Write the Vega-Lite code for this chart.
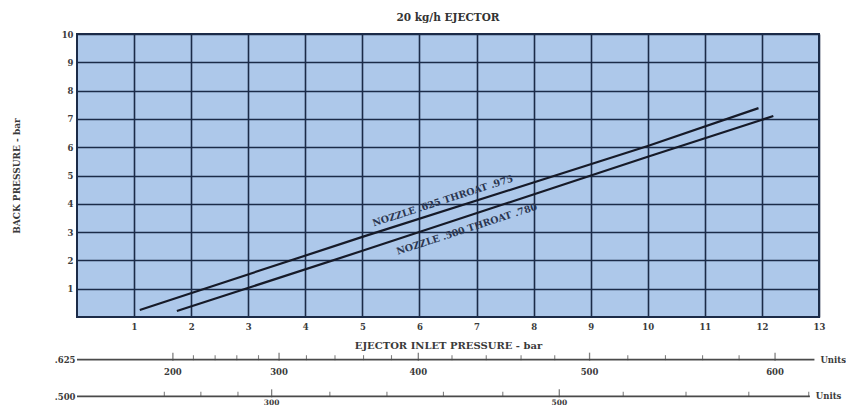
{
  "$schema": "https://vega.github.io/schema/vega-lite/v6.json",
  "padding": {"left": 11, "top": 11, "right": 0, "bottom": 0},
  "background": "white",
  "spacing": 0,
  "config": {
    "font": "DejaVu Serif",
    "view": {"stroke": null},
    "axis": {"labelColor": "#3a3a3a", "titleColor": "#3a3a3a", "labelOverlap": false}
  },
  "datasets": {
    "curves": [
      {"curve": "625", "inlet": 1.1, "back": 0.25},
      {"curve": "625", "inlet": 5.0, "back": 2.83},
      {"curve": "625", "inlet": 10.0, "back": 6.04},
      {"curve": "625", "inlet": 11.94, "back": 7.38},
      {"curve": "500", "inlet": 1.75, "back": 0.21},
      {"curve": "500", "inlet": 5.0, "back": 2.34},
      {"curve": "500", "inlet": 10.0, "back": 5.66},
      {"curve": "500", "inlet": 12.2, "back": 7.1}
    ],
    "curveLabels": [
      {"inlet": 6.41, "back": 4.1, "label": "NOZZLE .625 THROAT .975"},
      {"inlet": 6.83, "back": 3.1, "label": "NOZZLE .500 THROAT .780"}
    ],
    "scaleLines": [
      {"nozzle": ".625", "start": 0, "end": 12.92, "unit": "Units"},
      {"nozzle": ".500", "start": 0, "end": 12.84, "unit": "Units"}
    ],
    "scaleTicks": [
      {"nozzle": ".625", "units": 200, "inlet": 1.68, "major": true},
      {"nozzle": ".625", "units": 220, "inlet": 2.04, "major": false},
      {"nozzle": ".625", "units": 240, "inlet": 2.42, "major": false},
      {"nozzle": ".625", "units": 260, "inlet": 2.8, "major": false},
      {"nozzle": ".625", "units": 280, "inlet": 3.18, "major": false},
      {"nozzle": ".625", "units": 300, "inlet": 3.54, "major": true},
      {"nozzle": ".625", "units": 320, "inlet": 4.02, "major": false},
      {"nozzle": ".625", "units": 340, "inlet": 4.52, "major": false},
      {"nozzle": ".625", "units": 360, "inlet": 5.02, "major": false},
      {"nozzle": ".625", "units": 380, "inlet": 5.51, "major": false},
      {"nozzle": ".625", "units": 400, "inlet": 5.98, "major": true},
      {"nozzle": ".625", "units": 420, "inlet": 6.57, "major": false},
      {"nozzle": ".625", "units": 440, "inlet": 7.17, "major": false},
      {"nozzle": ".625", "units": 460, "inlet": 7.78, "major": false},
      {"nozzle": ".625", "units": 480, "inlet": 8.37, "major": false},
      {"nozzle": ".625", "units": 500, "inlet": 8.98, "major": true},
      {"nozzle": ".625", "units": 520, "inlet": 9.65, "major": false},
      {"nozzle": ".625", "units": 540, "inlet": 10.31, "major": false},
      {"nozzle": ".625", "units": 560, "inlet": 10.96, "major": false},
      {"nozzle": ".625", "units": 580, "inlet": 11.6, "major": false},
      {"nozzle": ".625", "units": 600, "inlet": 12.23, "major": true},
      {"nozzle": ".500", "units": 180, "inlet": 1.53, "major": false},
      {"nozzle": ".500", "units": 220, "inlet": 2.17, "major": false},
      {"nozzle": ".500", "units": 260, "inlet": 2.82, "major": false},
      {"nozzle": ".500", "units": 300, "inlet": 3.41, "major": true},
      {"nozzle": ".500", "units": 340, "inlet": 4.43, "major": false},
      {"nozzle": ".500", "units": 380, "inlet": 5.43, "major": false},
      {"nozzle": ".500", "units": 420, "inlet": 6.42, "major": false},
      {"nozzle": ".500", "units": 460, "inlet": 7.46, "major": false},
      {"nozzle": ".500", "units": 500, "inlet": 8.45, "major": true},
      {"nozzle": ".500", "units": 540, "inlet": 9.57, "major": false},
      {"nozzle": ".500", "units": 580, "inlet": 10.67, "major": false},
      {"nozzle": ".500", "units": 620, "inlet": 11.77, "major": false},
      {"nozzle": ".500", "units": 660, "inlet": 12.82, "major": false}
    ]
  },
  "vconcat": [
    {
      "width": 742,
      "height": 283,
      "title": {"text": "20 kg/h EJECTOR", "fontSize": 10.5, "fontWeight": "bold", "color": "#333333", "anchor": "middle", "offset": 7},
      "view": {"fill": "#adc8ea", "stroke": "#1b2b48", "strokeWidth": 2},
      "encoding": {
        "x": {
          "field": "inlet", "type": "quantitative",
          "scale": {"domain": [0, 13], "nice": false, "zero": false},
          "axis": {
            "values": [1, 2, 3, 4, 5, 6, 7, 8, 9, 10, 11, 12, 13],
            "format": "d", "labelOverlap": false, "labelFlush": false,
            "grid": true, "gridColor": "#1b2b48", "gridWidth": 1.6, "gridOpacity": 1,
            "ticks": false, "domain": false,
            "labelFontSize": 8.5, "labelFontWeight": "bold", "labelPadding": 5,
            "title": "EJECTOR INLET PRESSURE - bar", "titleFontSize": 10, "titleFontWeight": "bold", "titlePadding": 10
          }
        },
        "y": {
          "field": "back", "type": "quantitative",
          "scale": {"domain": [0, 10], "nice": false},
          "axis": {
            "values": [1, 2, 3, 4, 5, 6, 7, 8, 9, 10],
            "format": "d", "labelOverlap": false, "labelFlush": false,
            "grid": true, "gridColor": "#1b2b48", "gridWidth": 1.6, "gridOpacity": 1,
            "ticks": false, "domain": false,
            "labelFontSize": 8.5, "labelFontWeight": "bold", "labelPadding": 4,
            "title": "BACK PRESSURE - bar", "titleFontSize": 9, "titleFontWeight": "bold", "titlePadding": 40
          }
        }
      },
      "layer": [
        {
          "data": {"name": "curves"},
          "mark": {"type": "line", "color": "#161a28", "strokeWidth": 2.2},
          "encoding": {
            "detail": {"field": "curve", "type": "nominal"}
          }
        },
        {
          "data": {"name": "curveLabels"},
          "mark": {"type": "text", "angle": 342, "fontSize": 9.5, "fontWeight": "bold", "color": "#2b3650", "font": "DejaVu Serif"},
          "encoding": {
            "text": {"field": "label"}
          }
        }
      ]
    },
    {
      "width": 742,
      "height": 44,
      "layer": [
        {
          "data": {"name": "scaleLines"},
          "mark": {"type": "rule", "color": "#4a4a4a", "strokeWidth": 1.6},
          "encoding": {
            "x": {"field": "start", "type": "quantitative", "scale": {"domain": [0, 13], "nice": false, "zero": false}, "axis": null},
            "x2": {"field": "end"},
            "y": {
              "field": "nozzle", "type": "nominal", "sort": [".625", ".500"],
              "scale": {"type": "point", "padding": 0.1},
              "axis": {"title": null, "ticks": false, "domain": false, "grid": false, "labelFontSize": 8.5, "labelFontWeight": "bold", "labelPadding": 2}
            }
          }
        },
        {
          "data": {"name": "scaleLines"},
          "mark": {"type": "text", "align": "left", "baseline": "middle", "dx": 6, "fontSize": 8.5, "fontWeight": "bold", "color": "#3a3a3a"},
          "encoding": {
            "x": {"field": "end", "type": "quantitative"},
            "y": {"field": "nozzle", "type": "nominal", "sort": [".625", ".500"]},
            "text": {"field": "unit"}
          }
        },
        {
          "data": {"name": "scaleTicks"},
          "transform": [{"filter": "datum.major"}],
          "mark": {"type": "tick", "color": "#4a4a4a", "size": 8, "thickness": 1.3, "yOffset": -3},
          "encoding": {
            "x": {"field": "inlet", "type": "quantitative"},
            "y": {"field": "nozzle", "type": "nominal", "sort": [".625", ".500"]}
          }
        },
        {
          "data": {"name": "scaleTicks"},
          "transform": [{"filter": "!datum.major"}],
          "mark": {"type": "tick", "color": "#4a4a4a", "size": 5, "thickness": 1.1, "yOffset": -2},
          "encoding": {
            "x": {"field": "inlet", "type": "quantitative"},
            "y": {"field": "nozzle", "type": "nominal", "sort": [".625", ".500"]}
          }
        },
        {
          "data": {"name": "scaleTicks"},
          "transform": [{"filter": "datum.major && datum.nozzle === '.625'"}],
          "mark": {"type": "text", "baseline": "middle", "dy": 12, "fontSize": 8.5, "fontWeight": "bold", "color": "#3a3a3a"},
          "encoding": {
            "x": {"field": "inlet", "type": "quantitative"},
            "y": {"field": "nozzle", "type": "nominal", "sort": [".625", ".500"]},
            "text": {"field": "units", "type": "quantitative"}
          }
        },
        {
          "data": {"name": "scaleTicks"},
          "transform": [{"filter": "datum.major && datum.nozzle === '.500'"}],
          "mark": {"type": "text", "baseline": "middle", "dy": 6.5, "fontSize": 7.5, "fontWeight": "bold", "color": "#3a3a3a"},
          "encoding": {
            "x": {"field": "inlet", "type": "quantitative"},
            "y": {"field": "nozzle", "type": "nominal", "sort": [".625", ".500"]},
            "text": {"field": "units", "type": "quantitative"}
          }
        }
      ]
    }
  ]
}
